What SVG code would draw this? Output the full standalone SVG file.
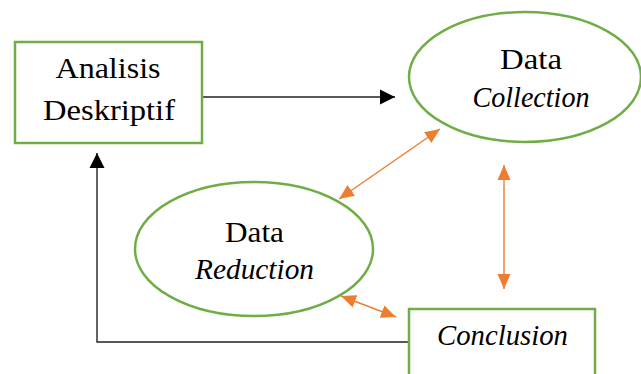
<svg xmlns="http://www.w3.org/2000/svg" width="641" height="374" viewBox="0 0 641 374">
<style>
.node{fill:#fff;stroke:#70AD47;stroke-width:2.5}
.t{font-family:'Liberation Serif',serif;font-size:28.5px;fill:#000;text-anchor:middle}
.i{font-style:italic}
.blk{stroke:#222;stroke-width:1.4;fill:none}
.org{stroke:#ED7D31;stroke-width:1.4;fill:none}
</style>
<defs>
<marker id="ab" markerUnits="userSpaceOnUse" markerWidth="16" markerHeight="16" viewBox="0 0 16 16" refX="15" refY="8" orient="auto">
<path d="M0,0.5 L15,8 L0,15.5 Z" fill="#000"/>
</marker>
<marker id="ao" markerUnits="userSpaceOnUse" markerWidth="16" markerHeight="14" viewBox="0 0 16 14" refX="15" refY="7" orient="auto-start-reverse">
<path d="M0,0.5 L15,7 L0,13.5 Z" fill="#ED7D31"/>
</marker>
</defs>
<g id="connectors">
<line class="blk" x1="203" y1="97" x2="395" y2="97" marker-end="url(#ab)"/>
<polyline class="blk" points="410,342 97,342 97,153" marker-end="url(#ab)"/>
<line class="org" x1="339" y1="199" x2="440" y2="129" marker-start="url(#ao)" marker-end="url(#ao)"/>
<line class="org" x1="504" y1="165" x2="504" y2="289" marker-start="url(#ao)" marker-end="url(#ao)"/>
<line class="org" x1="341" y1="296" x2="396" y2="317" marker-start="url(#ao)" marker-end="url(#ao)"/>
</g>
<g id="analisis">
<rect class="node" x="15" y="42" width="187" height="101"/>
<text class="t" x="108" y="78" textLength="105" lengthAdjust="spacingAndGlyphs">Analisis</text>
<text class="t" x="109" y="120" textLength="132" lengthAdjust="spacingAndGlyphs">Deskriptif</text>
</g>
<g id="collection">
<ellipse class="node" cx="525" cy="77" rx="116" ry="65"/>
<text class="t" x="531" y="69" textLength="62" lengthAdjust="spacingAndGlyphs">Data</text>
<text class="t i" x="531" y="107" textLength="117" lengthAdjust="spacingAndGlyphs">Collection</text>
</g>
<g id="reduction">
<ellipse class="node" cx="254" cy="249" rx="119" ry="67"/>
<text class="t" x="254.5" y="242" textLength="59" lengthAdjust="spacingAndGlyphs">Data</text>
<text class="t i" x="254.5" y="279" textLength="119" lengthAdjust="spacingAndGlyphs">Reduction</text>
</g>
<g id="conclusion">
<rect class="node" x="409" y="309" width="186" height="80"/>
<text class="t i" x="502.5" y="345" textLength="131" lengthAdjust="spacingAndGlyphs">Conclusion</text>
</g>
</svg>
